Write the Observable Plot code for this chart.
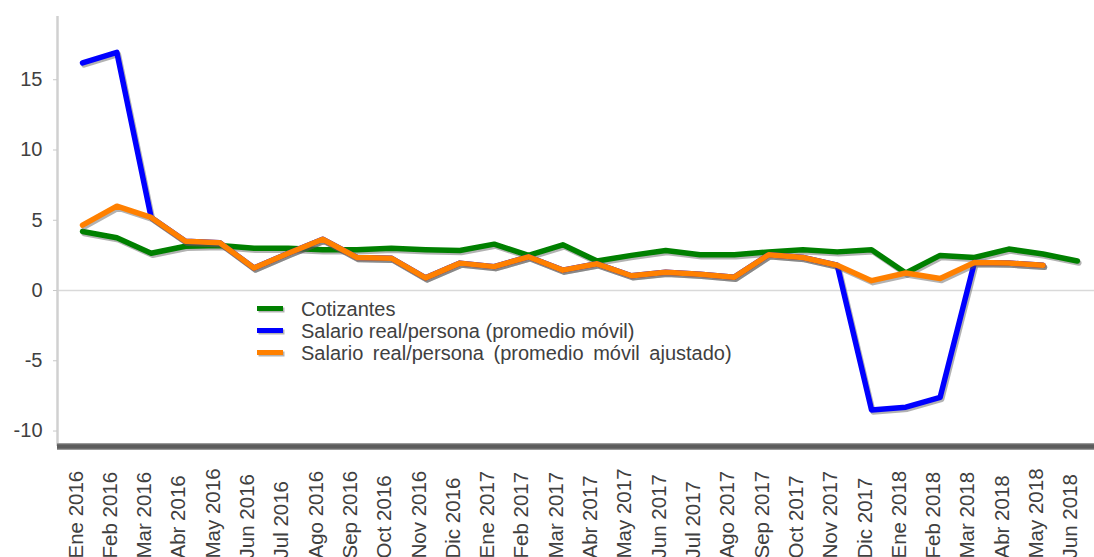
<!DOCTYPE html>
<html><head><meta charset="utf-8">
<script src="https://cdn.jsdelivr.net/npm/d3@7"></script>
<script src="https://cdn.jsdelivr.net/npm/@observablehq/plot@0.6"></script>
<style>
body{margin:0;background:#fff;font-family:"Liberation Sans",Arial,sans-serif;}
#wrap{position:relative;width:1094px;height:557px;overflow:hidden;}
#legend{position:absolute;left:0;top:0;font-size:20px;color:#404040;}
.row{position:absolute;height:22px;line-height:22px;white-space:nowrap;display:flex;align-items:center;}
.row svg{margin-right:16px;}
</style></head>
<body><div id="wrap"><div id="chart"></div><div id="legend"></div></div>
<script>
const months = ["Ene 2016","Feb 2016","Mar 2016","Abr 2016","May 2016","Jun 2016","Jul 2016","Ago 2016","Sep 2016","Oct 2016","Nov 2016","Dic 2016",
  "Ene 2017","Feb 2017","Mar 2017","Abr 2017","May 2017","Jun 2017","Jul 2017","Ago 2017","Sep 2017","Oct 2017","Nov 2017","Dic 2017",
  "Ene 2018","Feb 2018","Mar 2018","Abr 2018","May 2018","Jun 2018"];
const cotizantes = [4.2,3.75,2.65,3.15,3.2,3.0,3.0,2.9,2.9,3.0,2.9,2.85,3.3,2.5,3.25,2.1,2.5,2.85,2.55,2.55,2.75,2.9,2.75,2.9,1.25,2.5,2.35,2.95,2.6,2.1];
const salario = [16.2,16.95,5.2,3.5,3.4,1.6,2.65,3.65,2.35,2.3,0.9,1.95,1.7,2.4,1.45,1.9,1.05,1.3,1.15,0.95,2.55,2.35,1.8,-8.5,-8.3,-7.6,2.0,1.95,1.8,null];
const salarioAjustado = [4.65,6.0,5.2,3.5,3.4,1.6,2.65,3.65,2.35,2.3,0.9,1.95,1.7,2.4,1.45,1.9,1.05,1.3,1.15,0.95,2.55,2.35,1.8,0.7,1.25,0.85,2.0,1.95,1.8,null];
const yTicks = [-10,-5,0,5,10,15];
const seriesNames = ["Cotizantes","Salario real/persona (promedio móvil)","Salario real/persona (promedio móvil ajustado)"];
const seriesColors = ["#008000","#0000ff","#ff8000"];
const seriesData = [cotizantes, salario, salarioAjustado];

const xDomain = [-0.73, 29.5];
const yDomain = [-11.1, 19.5];

const lineMarks = [];
seriesData.forEach((s, k) => {
  lineMarks.push(Plot.line(s, {x: (d, i) => i, y: d => d, stroke: "#555", strokeOpacity: 0.45, strokeWidth: 5.5, dx: 1.5, dy: 2, strokeLinejoin: "round"}));
  lineMarks.push(Plot.line(s, {x: (d, i) => i, y: d => d, stroke: seriesColors[k], strokeWidth: 5.5, strokeLinejoin: "round"}));
});

const chart = Plot.plot({
  width: 1094, height: 557,
  marginLeft: 57, marginRight: 0, marginTop: 16, marginBottom: 111,
  x: {domain: xDomain, axis: null},
  y: {domain: yDomain, axis: null},
  style: {fontFamily: "'Liberation Sans', Arial, sans-serif", color: "#404040", background: "white", overflow: "visible"},
  marks: [
    Plot.ruleY([0], {stroke: "#d9d9d9", strokeWidth: 1.5}),
    Plot.ruleX([xDomain[0]], {stroke: "#d0d0d0", strokeWidth: 2.5}),
    Plot.axisY(yTicks, {tickSize: 4, tickPadding: 11, fontSize: 20, stroke: "#c8c8c8", fill: "#404040", tickFormat: d => d < 0 ? "-" + Math.abs(d) : String(d)}),
    ...lineMarks,
    Plot.ruleY([yDomain[0]], {stroke: "#9a9a9a", strokeWidth: 7}),
    Plot.ruleY([yDomain[0]], {stroke: "#5c5c5c", strokeWidth: 4.5}),
    Plot.text(months, {x: (d, i) => i, text: d => d, frameAnchor: "bottom", rotate: -90, textAnchor: "start", dy: 112, fontSize: 20.5, fill: "#404040"})
  ]
});
document.getElementById("chart").appendChild(chart);

const legend = document.getElementById("legend");
const rowCenters = [309, 331, 353];
seriesNames.forEach((name, k) => {
  const row = document.createElement("div");
  row.className = "row";
  row.style.left = "257px";
  row.style.top = (rowCenters[k] - 11) + "px";
  if (k === 2) row.style.wordSpacing = "4px";
  row.innerHTML = `<svg width="28" height="10"><line x1="1.5" x2="27.5" y1="6" y2="6" stroke="#555" stroke-opacity="0.45" stroke-width="5"/><line x1="0" x2="26" y1="4.5" y2="4.5" stroke="${seriesColors[k]}" stroke-width="5"/></svg><span></span>`;
  row.querySelector("span").textContent = name;
  legend.appendChild(row);
});
</script>
</body></html>
